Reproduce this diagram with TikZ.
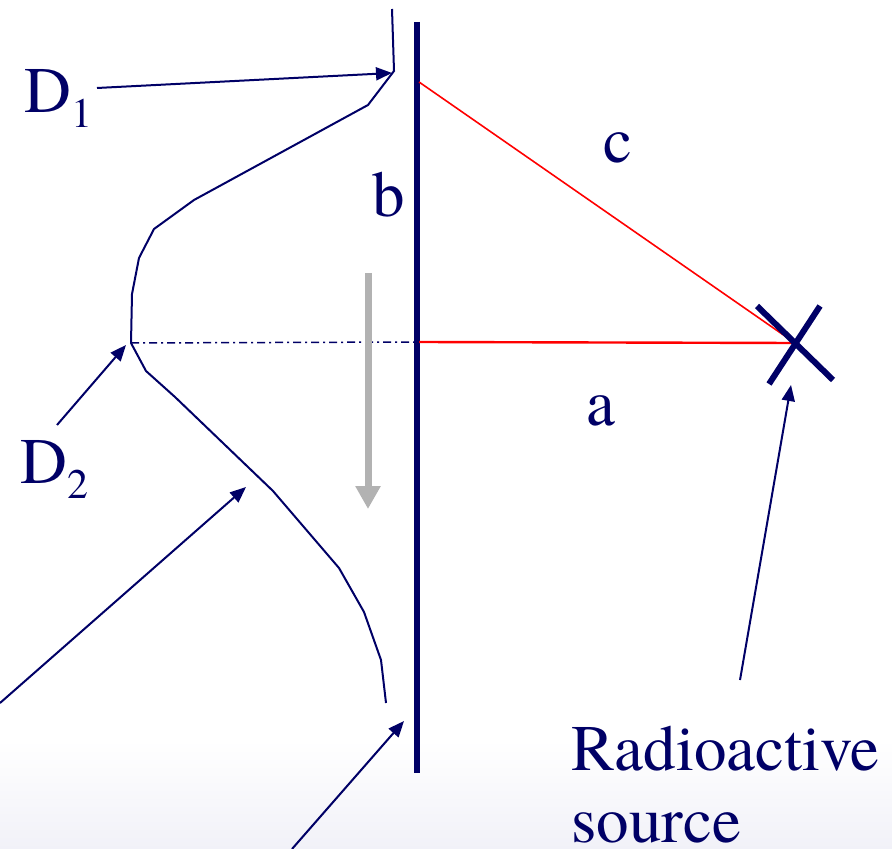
\documentclass[tikz,border=0pt]{standalone}
\usepackage{fontspec}
\setmainfont{TeX Gyre Termes}
\usepackage{tikz}
\usetikzlibrary{arrows.meta}
\definecolor{navy}{RGB}{0,0,102}
\definecolor{slidebg}{RGB}{241,241,248}

\begin{document}
\begin{tikzpicture}[
  x=0.5pt,y=-0.5pt,
  lbl/.style={navy,font=\fontsize{32.5}{36}\selectfont,inner sep=0pt,anchor=base west},
  pointer/.style={navy,line width=1pt,-{Triangle[length=8pt,width=6.5pt]}},
  profile/.style={navy,line width=1pt,line join=miter},
  ray/.style={red,line width=0.8pt},
  screen/.style={navy,line width=3pt},
  motion/.style={gray!60,line width=3.5pt,-{Triangle[length=11.5pt,width=12pt]}}
]
\useasboundingbox (0,0) rectangle (892,849);
\shade[top color=white,bottom color=slidebg] (0,740) rectangle (892,849);

% screen and source
\coordinate (barTop) at (417,22);
\coordinate (barBot) at (417,773);
\coordinate (hitC) at (419,82);
\coordinate (hitA) at (419,342);
\coordinate (src) at (795,343);
\draw[screen] (barTop) -- (barBot);
\draw[ray] (hitC) -- (src);
\draw[ray,line width=1.2pt] (hitA) -- (src);
\draw[screen] ([shift={(-38,-37)}]src) -- ([shift={(38,37)}]src);
\draw[screen] ([shift={(25,-37)}]src) -- ([shift={(-26,41)}]src);

% intensity profile
\coordinate (pTop) at (392,9);
\coordinate (pPeak) at (394,71);
\coordinate (pMin) at (131,343);
\coordinate (pLow) at (273,491);
\coordinate (pEnd) at (386,703);
\draw[profile] (pTop) -- (pPeak) -- (368,105) -- (194,200) -- (154,229)
  -- (139,258) -- (132,294) -- (pMin) -- (146,371) -- (175,397) -- (pLow)
  -- (339,568) -- (364,612) -- (381,660) -- (pEnd);
\draw[navy,line width=0.75pt,dash pattern=on 4pt off 2pt on 1pt off 2pt] (pMin) -- (hitA);

% motion of the screen
\coordinate (gTop) at (368,273);
\coordinate (gTip) at (368,509);
\draw[motion] (gTop) -- (gTip);

% labels
\node[lbl] (dOne) at (24,113) {D\raisebox{-7.5pt}{\fontsize{21}{21}\selectfont 1}};
\node[lbl] (dTwo) at (20,483) {D\raisebox{-7.5pt}{\fontsize{21}{21}\selectfont 2}};
\node[lbl] (lb) at (372,217) {b};
\node[lbl] (lc) at (603,163) {c};
\node[lbl] (la) at (586,425) {a};
\node[lbl,anchor=north west,align=left] (srcText) at (571,726) {Radioactive\\source};

% pointers
\coordinate (dOneTail) at (97,88);
\coordinate (dTwoTail) at (57,425);
\coordinate (sideTail) at (0,703);
\coordinate (sideTip) at (246,487);
\coordinate (edgeTail) at (292,849);
\coordinate (edgeTip) at (404,721);
\coordinate (srcTail) at (740,680);
\coordinate (srcTip) at (791,385);
\draw[pointer] (dOneTail) -- (392,73);
\draw[pointer] (dTwoTail) -- (126,345);
\draw[pointer] (sideTail) -- (sideTip);
\draw[pointer] (edgeTail) -- (edgeTip);
\draw[pointer] (srcTail) -- (srcTip);
\end{tikzpicture}
\end{document}
